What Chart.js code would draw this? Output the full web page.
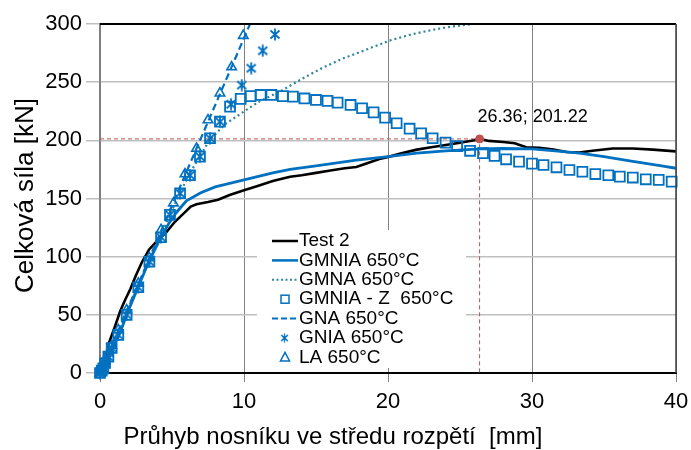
<!DOCTYPE html>
<html>
<head>
<meta charset="utf-8">
<script src="https://cdn.jsdelivr.net/npm/chart.js@4.4.1/dist/chart.umd.min.js"></script>
<style>
  html, body { margin: 0; padding: 0; background: #fff; }
  #wrap { width: 691px; height: 450px; }
</style>
</head>
<body>
<div id="wrap"><canvas id="chart" width="691" height="450"></canvas></div>
<script>
// Test 2 (measured)
const testX = [0, 0.35, 0.6, 1.04, 1.4, 1.75, 2.1, 2.5, 2.9, 3.4, 4.0, 4.6, 5.2, 5.8, 6.3, 6.7, 7.5, 8.2, 9, 10, 11, 12, 13.2, 14, 15, 16, 17, 17.8, 18.5, 19.4, 20.1, 21, 22, 23, 24, 25, 26, 26.36, 27, 28, 28.8, 29.6, 30.5, 31.5, 32.4, 33.3, 34.2, 35.6, 37, 38.4, 40];
const testY = [0, 3, 25, 40, 53, 63, 72, 84, 95, 106, 114, 121, 130, 137, 143, 145, 147, 149, 153, 157, 161, 165, 168.7, 170, 172, 174, 176, 177, 180, 184, 186, 189, 192, 194, 196, 198, 200, 201.22, 199.5, 198.5, 197.5, 194, 193.5, 192, 190, 189.5, 191, 193, 193, 192, 190.5];

// GMNIA 650°C
const gmniaX = [0, 0.5, 1, 1.5, 1.85, 2.65, 3.4, 4.2, 4.8, 5.3, 6.0, 7, 8, 9, 10, 11, 12, 13.2, 15, 17.8, 20, 22, 24, 26.4, 28, 30, 32, 33.3, 35, 37, 39, 40];
const gmniaY = [0, 11, 24, 38, 50, 74, 96, 116, 129, 138, 148, 155, 160, 163, 166, 169, 172, 175, 178, 183, 186, 189, 191, 192.6, 193, 192.6, 190.5, 189, 186, 182, 178, 176];

// GMNA 650°C
const gmnaX = [0, 1, 2, 3, 4, 4.8, 5.55, 6.4, 7.6, 8.7, 9.9, 11, 12.5, 13.9, 15.4, 16.9, 18.5, 20.1, 21.6, 23.1, 24.5, 26];
const gmnaY = [0, 28.5, 57, 85, 112, 134, 155, 175, 200, 214, 224, 233, 242, 252, 262, 270.5, 278, 285.7, 291, 295, 298, 300];

// GMNIA - Z 650°C
const gmniaZX = [0, 0.12, 0.23, 0.35, 0.58, 0.81, 1.27, 1.85, 2.66, 3.43, 4.24, 4.86, 5.56, 6.25, 6.94, 7.64, 8.33, 9.03, 9.77, 10.46, 11.16, 11.9, 12.7, 13.4, 14.2, 15, 15.8, 16.5, 17.4, 18.2, 19, 19.8, 20.6, 21.5, 22.3, 23.1, 24, 24.8, 25.7, 26.6, 27.4, 28.2, 29.1, 30, 30.8, 31.7, 32.6, 33.5, 34.4, 35.3, 36.1, 37, 37.9, 38.8, 39.7];
const gmniaZY = [0, 2, 4, 8.6, 14, 21.5, 32.7, 50, 73.7, 95.7, 116.7, 136, 154.5, 170, 186, 201.8, 216, 229, 235.6, 238, 239, 239, 238, 237.6, 236, 234.7, 233.9, 232.4, 230.4, 227.6, 224, 219.5, 214.7, 210, 206, 201.8, 198, 195, 191, 189, 186.6, 183.7, 181.7, 180, 178.8, 176.8, 174.5, 173, 171, 170, 168.8, 168, 166.5, 166, 164.5];

// GNA 650°C
const gnaX = [0, 10.42];
const gnaY = [0, 300];

// GNIA 650°C
const gniaX = [0, 0.12, 0.23, 0.35, 0.58, 0.81, 1.27, 1.85, 2.66, 3.43, 4.24, 4.86, 5.56, 6.25, 6.94, 7.64, 8.33, 9.1, 9.84, 10.5, 11.3, 12.15];
const gniaY = [0, 2, 4, 8.6, 14, 21.5, 32.7, 50, 73.7, 95.7, 116.7, 136, 154.5, 170, 186, 201.8, 216, 231, 247.5, 262, 277, 291];

// LA 650°C
const laX = [0, 0.12, 0.23, 0.35, 0.58, 0.81, 1.27, 1.85, 2.66, 3.43, 4.24, 5.1, 5.9, 6.7, 7.5, 8.33, 9.14, 9.95];
const laY = [0, 3.5, 6.7, 10, 17, 23.5, 37, 54, 77, 99, 123, 146, 171, 193, 217.5, 240.5, 263, 290];

// peak of the test
const peakX = 26.36;
const peakY = 201.22;

const xTicks = [0, 10, 20, 30, 40];
const yTicks = [0, 50, 100, 150, 200, 250, 300];

const BLUE = '#0070C0';
const TEAL = '#31859C';
const RED = '#C0504D';
const FONT = '"Liberation Sans", Arial, sans-serif';

function pts(xs, ys) {
    return xs.map((x, i) => ({x: x, y: ys[i]}));
}

// asterisk marker (X with vertical bar)
function makeAsterisk() {
    const c = document.createElement('canvas');
    c.width = 12; c.height = 13;
    const g = c.getContext('2d');
    g.strokeStyle = BLUE;
    g.lineWidth = 1.8;
    g.beginPath();
    g.moveTo(1.5, 2.5); g.lineTo(10.5, 10.5);
    g.moveTo(10.5, 2.5); g.lineTo(1.5, 10.5);
    g.moveTo(6, 0.5); g.lineTo(6, 12.5);
    g.stroke();
    return c;
}
const asterisk = makeAsterisk();

const legendItems = [
    {label: 'Test 2', type: 'line', color: '#000', dash: [], width: 2.5},
    {label: 'GMNIA 650°C', type: 'line', color: BLUE, dash: [], width: 2.5},
    {label: 'GMNA 650°C', type: 'line', color: TEAL, dash: [2, 2.5], width: 2},
    {label: 'GMNIA - Z  650°C', type: 'rect'},
    {label: 'GNA 650°C', type: 'line', color: BLUE, dash: [6, 3], width: 2},
    {label: 'GNIA 650°C', type: 'star'},
    {label: 'LA 650°C', type: 'triangle'}
];

// frame, axis titles, peak label and the legend box
const decor = {
    id: 'decor',
    afterDraw(chart) {
        const ctx = chart.ctx;
        const a = chart.chartArea;
        const xs = chart.scales.x, ys = chart.scales.y;
        ctx.save();

        // top and right frame
        ctx.strokeStyle = '#000';
        ctx.lineWidth = 2;
        ctx.beginPath();
        ctx.moveTo(a.left, a.top); ctx.lineTo(a.right, a.top);
        ctx.stroke();
        ctx.strokeStyle = '#404040';
        ctx.lineWidth = 1.5;
        ctx.beginPath();
        ctx.moveTo(a.right, a.top); ctx.lineTo(a.right, a.bottom);
        ctx.stroke();

        // peak label
        ctx.fillStyle = '#000';
        ctx.font = '18px ' + FONT;
        ctx.textAlign = 'left';
        ctx.textBaseline = 'middle';
        ctx.fillText(peakX.toFixed(2) + '; ' + peakY.toFixed(2), xs.getPixelForValue(peakX) - 2, ys.getPixelForValue(peakY) - 22);

        // axis titles
        ctx.font = '24px ' + FONT;
        ctx.textAlign = 'center';
        ctx.fillText('Průhyb nosníku ve středu rozpětí  [mm]', 333, 437);
        ctx.save();
        ctx.translate(26, (a.top + a.bottom) / 2 - 3);
        ctx.rotate(-Math.PI / 2);
        ctx.font = '26px ' + FONT;
        ctx.fillText('Celková síla [kN]', 0, 0);
        ctx.restore();

        // legend
        const bx = a.left + 157, by = a.top + 206;
        ctx.fillStyle = '#fff';
        ctx.fillRect(bx, by, 209, 138);
        ctx.font = '19px ' + FONT;
        ctx.textAlign = 'left';
        legendItems.forEach((it, i) => {
            const y = by + 11 + i * 19.4;
            const x0 = bx + 15, x1 = bx + 41, xm = (x0 + x1) / 2;
            ctx.save();
            if (it.type === 'line') {
                ctx.strokeStyle = it.color;
                ctx.lineWidth = it.width;
                ctx.setLineDash(it.dash);
                ctx.beginPath();
                ctx.moveTo(x0, y); ctx.lineTo(x1, y);
                ctx.stroke();
            } else if (it.type === 'rect') {
                ctx.strokeStyle = BLUE;
                ctx.lineWidth = 1.5;
                ctx.strokeRect(xm - 4, y - 4, 8, 8);
            } else if (it.type === 'star') {
                ctx.drawImage(asterisk, xm - 5, y - 5, 9, 10);
            } else {
                ctx.strokeStyle = BLUE;
                ctx.lineWidth = 1.5;
                ctx.beginPath();
                ctx.moveTo(xm, y - 5); ctx.lineTo(xm + 4.5, y + 3.5); ctx.lineTo(xm - 4.5, y + 3.5);
                ctx.closePath();
                ctx.stroke();
            }
            ctx.restore();
            ctx.fillStyle = '#000';
            ctx.fillText(it.label, x1 + 1, y);
        });
        ctx.restore();
    }
};

const lineBase = {showLine: true, pointRadius: 0, fill: false, tension: 0};
const markBase = {showLine: false, clip: false, backgroundColor: 'rgba(0,0,0,0)'};

new Chart(document.getElementById('chart'), {
    type: 'scatter',
    data: {
        datasets: [
            Object.assign({}, markBase, {label: 'GMNIA - Z  650°C', data: pts(gmniaZX, gmniaZY), order: 1,
                pointStyle: 'rect', pointRadius: 7, borderColor: BLUE, borderWidth: 1.8}),
            Object.assign({}, markBase, {label: 'GNIA 650°C', data: pts(gniaX, gniaY), order: 2,
                pointStyle: asterisk}),
            Object.assign({}, markBase, {label: 'LA 650°C', data: pts(laX, laY), order: 3,
                pointStyle: 'triangle', pointRadius: 5.5, borderColor: BLUE, borderWidth: 1.6}),
            {label: 'peak', data: [{x: peakX, y: peakY}], order: 0, showLine: false,
                pointStyle: 'circle', pointRadius: 4, backgroundColor: RED, borderColor: RED},
            Object.assign({}, lineBase, {label: 'GNA 650°C', data: pts(gnaX, gnaY), order: 4,
                borderColor: BLUE, borderWidth: 2.2, borderDash: [7, 4]}),
            Object.assign({}, lineBase, {label: 'GMNIA 650°C', data: pts(gmniaX, gmniaY), order: 5,
                borderColor: BLUE, borderWidth: 2.8}),
            Object.assign({}, lineBase, {label: 'GMNA 650°C', data: pts(gmnaX, gmnaY), order: 6,
                borderColor: TEAL, borderWidth: 2.2, borderDash: [2, 3]}),
            Object.assign({}, lineBase, {label: 'Test 2', data: pts(testX, testY), order: 7,
                borderColor: '#000', borderWidth: 2.6}),
            Object.assign({}, lineBase, {label: 'peak lines', order: 8,
                data: [{x: 0, y: peakY}, {x: peakX, y: peakY}, {x: peakX, y: 0}],
                borderColor: RED, borderWidth: 1, borderDash: [4, 3]})
        ]
    },
    options: {
        responsive: false,
        animation: false,
        layout: {padding: {top: 24, right: 15, left: 0, bottom: 0}},
        plugins: {legend: {display: false}, tooltip: {enabled: false}},
        scales: {
            x: {
                type: 'linear', min: 0, max: 40,
                afterFit: s => { s.height = 77; s.paddingLeft = 0; s.paddingRight = 0; },
                afterBuildTicks: s => { s.ticks = xTicks.map(v => ({value: v})); },
                grid: {color: '#808080', lineWidth: 1, tickLength: 9},
                border: {color: '#000', width: 2},
                ticks: {color: '#000', padding: 7, font: {family: FONT, size: 22}}
            },
            y: {
                type: 'linear', min: 0, max: 300,
                afterFit: s => { s.width = 100; s.paddingTop = 0; s.paddingBottom = 0; },
                afterBuildTicks: s => { s.ticks = yTicks.map(v => ({value: v})); },
                grid: {color: '#bfbfbf', lineWidth: 1.5, tickLength: 14},
                border: {color: '#7f7f7f', width: 1.5},
                ticks: {color: '#000', padding: 4, font: {family: FONT, size: 22}}
            }
        }
    },
    plugins: [decor]
});
</script>
</body>
</html>
